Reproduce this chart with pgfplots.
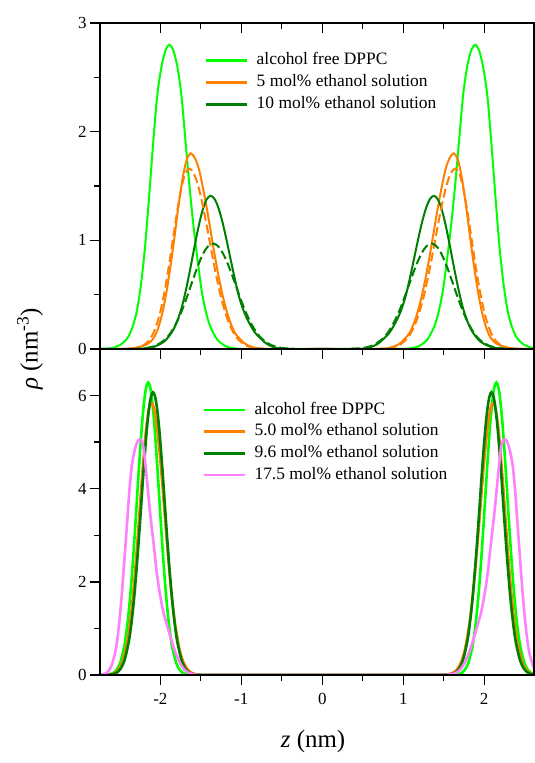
\documentclass[border=0pt]{standalone}
\usepackage{fontspec}
\setmainfont{Liberation Serif}
\usepackage{pgfplots}
\pgfplotsset{compat=1.18}
\definecolor{cgreen}{RGB}{0,255,0}
\definecolor{corange}{RGB}{255,128,0}
\definecolor{cdark}{RGB}{0,128,0}
\definecolor{cpink}{RGB}{255,128,255}
\begin{document}
\begin{tikzpicture}
\pgfplotsset{
  panel/.style={
    scale only axis, width=434bp, height=326bp,
    xmin=-2.745, xmax=2.615,
    xtick={-2,-1,0,1,2}, minor x tick num=1,
    tick align=outside, xtick pos=bottom, ytick pos=both,
    major tick length=10bp, minor tick length=6bp,
    axis line style={line width=1.3bp},
    every tick/.style={black, line width=1.3bp},
    tick label style={font=\fontsize{17}{17}\selectfont},
    xticklabel style={yshift=-5bp},
    /pgf/number format/assume math mode=true,
    axis on top,
    legend cell align=left,
    legend image code/.code={\draw[##1,solid,line width=2.7bp] (0bp,0bp) -- (41bp,0bp);},
    legend style={draw=none, fill=none, inner sep=0pt, outer sep=0pt,
      row sep=6bp, /tikz/column sep=8bp,
      font=\fontsize{17.5}{17.5}\selectfont,
      nodes={inner sep=0pt, text height=12bp, text depth=3.7bp}},
  },
  tl/.style={smooth, tension=0.5, line width=2bp},
  bl/.style={smooth, tension=0.5, line width=2.6bp},
  dsh/.style={dash pattern=on 9bp off 4bp},
}
\path[use as bounding box] (0,0) rectangle (535bp,763bp);

% ---------- top panel ----------
\begin{axis}[panel, at={(100bp,414bp)}, anchor=south west,
  ymin=0, ymax=3, ytick={0,1,2,3}, minor y tick num=1, xticklabels={},
  legend style={at={(0.242,0.908)}, anchor=north west}]
\addplot[tl, cgreen] coordinates {
(-2.745,0) (-2.69,0.002) (-2.59,0.01) (-2.49,0.04) (-2.44,0.07) (-2.39,0.12) (-2.34,0.21) (-2.29,0.35) (-2.24,0.59) (-2.19,0.93) (-2.14,1.39) (-2.09,1.88) (-2.04,2.32) (-1.99,2.58) (-1.94,2.74) (-1.89,2.80) (-1.84,2.75) (-1.79,2.60) (-1.74,2.34) (-1.69,1.92) (-1.64,1.50) (-1.59,1.13) (-1.54,0.82) (-1.49,0.54) (-1.44,0.35) (-1.39,0.22) (-1.34,0.14) (-1.29,0.08) (-1.19,0.025) (-1.09,0.006) (-0.99,0.001) (-0.89,0) (0,0)
(0.89,0) (0.99,0.001) (1.09,0.006) (1.19,0.025) (1.29,0.08) (1.34,0.14) (1.39,0.22) (1.44,0.35) (1.49,0.54) (1.54,0.82) (1.59,1.13) (1.64,1.50) (1.69,1.92) (1.74,2.34) (1.79,2.60) (1.84,2.75) (1.89,2.80) (1.94,2.74) (1.99,2.58) (2.04,2.32) (2.09,1.88) (2.14,1.39) (2.19,0.93) (2.24,0.59) (2.29,0.35) (2.34,0.21) (2.39,0.12) (2.44,0.07) (2.49,0.04) (2.59,0.01) (2.69,0.002)
};
\addlegendentry{alcohol free DPPC}
\addplot[tl, corange] coordinates {
(-2.745,0) (-2.525,0) (-2.425,0.002) (-2.325,0.008) (-2.225,0.025) (-2.175,0.04) (-2.125,0.065) (-2.075,0.109) (-2.025,0.196) (-1.975,0.33) (-1.925,0.52) (-1.875,0.76) (-1.825,1.03) (-1.775,1.32) (-1.725,1.57) (-1.675,1.74) (-1.625,1.80) (-1.575,1.76) (-1.525,1.66) (-1.475,1.49) (-1.425,1.29) (-1.375,1.07) (-1.325,0.85) (-1.275,0.65) (-1.225,0.475) (-1.175,0.333) (-1.125,0.224) (-1.075,0.144) (-1.025,0.10) (-0.975,0.06) (-0.925,0.035) (-0.825,0.01) (-0.725,0.002) (-0.625,0) (0,0)
(0.625,0) (0.725,0.002) (0.825,0.01) (0.925,0.035) (0.975,0.06) (1.025,0.10) (1.075,0.144) (1.125,0.224) (1.175,0.333) (1.225,0.475) (1.275,0.65) (1.325,0.85) (1.375,1.07) (1.425,1.29) (1.475,1.49) (1.525,1.66) (1.575,1.76) (1.625,1.80) (1.675,1.74) (1.725,1.57) (1.775,1.32) (1.825,1.03) (1.875,0.76) (1.925,0.52) (1.975,0.33) (2.025,0.196) (2.075,0.109) (2.125,0.065) (2.175,0.04) (2.225,0.025) (2.325,0.008) (2.425,0.002) (2.525,0) (2.7,0)
};
\addlegendentry{5 mol\% ethanol solution}
\addplot[tl, cdark] coordinates {
(-2.745,0) (-2.38,0) (-2.28,0.001) (-2.18,0.006) (-2.08,0.02) (-1.98,0.055) (-1.93,0.085) (-1.88,0.13) (-1.83,0.19) (-1.78,0.28) (-1.73,0.398) (-1.68,0.556) (-1.63,0.739) (-1.58,0.933) (-1.53,1.118) (-1.48,1.272) (-1.43,1.374) (-1.38,1.41) (-1.33,1.38) (-1.28,1.293) (-1.23,1.16) (-1.18,0.996) (-1.13,0.819) (-1.08,0.645) (-1.03,0.487) (-0.98,0.37) (-0.93,0.28) (-0.88,0.21) (-0.83,0.15) (-0.78,0.11) (-0.73,0.075) (-0.68,0.045) (-0.58,0.012) (-0.48,0.002) (-0.38,0) (0,0)
(0.38,0) (0.48,0.002) (0.58,0.012) (0.68,0.045) (0.73,0.075) (0.78,0.11) (0.83,0.15) (0.88,0.21) (0.93,0.28) (0.98,0.37) (1.03,0.487) (1.08,0.645) (1.13,0.819) (1.18,0.996) (1.23,1.16) (1.28,1.293) (1.33,1.38) (1.38,1.41) (1.43,1.374) (1.48,1.272) (1.53,1.118) (1.58,0.933) (1.63,0.739) (1.68,0.556) (1.73,0.398) (1.78,0.28) (1.83,0.19) (1.88,0.13) (1.93,0.085) (1.98,0.055) (2.08,0.02) (2.18,0.006) (2.28,0.001) (2.38,0) (2.7,0)
};
\addlegendentry{10 mol\% ethanol solution}
% dashed curves
\addplot[tl, corange, dsh, forget plot] coordinates {
(-2.545,0) (-2.445,0.001) (-2.345,0.005) (-2.245,0.02) (-2.195,0.04) (-2.145,0.073) (-2.095,0.132) (-2.045,0.225) (-1.995,0.359) (-1.945,0.539) (-1.895,0.760) (-1.845,1.007) (-1.795,1.253) (-1.745,1.465) (-1.695,1.61) (-1.645,1.66) (-1.595,1.627) (-1.545,1.532) (-1.495,1.386) (-1.445,1.205) (-1.395,1.007) (-1.345,0.808) (-1.295,0.623) (-1.245,0.461) (-1.195,0.329) (-1.145,0.225) (-1.095,0.148) (-1.045,0.093) (-0.945,0.033) (-0.845,0.01) (-0.745,0.003) (-0.645,0)
};
\addplot[tl, corange, dsh, forget plot] coordinates {
(0.645,0) (0.745,0.003) (0.845,0.01) (0.945,0.033) (1.045,0.093) (1.095,0.148) (1.145,0.225) (1.195,0.329) (1.245,0.461) (1.295,0.623) (1.345,0.808) (1.395,1.007) (1.445,1.205) (1.495,1.386) (1.545,1.532) (1.595,1.627) (1.645,1.66) (1.695,1.61) (1.745,1.465) (1.795,1.253) (1.845,1.007) (1.895,0.760) (1.945,0.539) (1.995,0.359) (2.045,0.225) (2.095,0.132) (2.145,0.073) (2.195,0.04) (2.245,0.02) (2.345,0.005) (2.445,0.001) (2.545,0)
};
\addplot[tl, cdark, dsh, forget plot] coordinates {
(-2.35,0.001) (-2.25,0.004) (-2.15,0.012) (-2.05,0.034) (-1.95,0.082) (-1.90,0.122) (-1.85,0.175) (-1.80,0.242) (-1.75,0.324) (-1.70,0.419) (-1.65,0.523) (-1.60,0.632) (-1.55,0.737) (-1.50,0.831) (-1.45,0.906) (-1.40,0.953) (-1.35,0.97) (-1.30,0.955) (-1.25,0.910) (-1.20,0.840) (-1.15,0.752) (-1.10,0.651) (-1.05,0.547) (-1.00,0.444) (-0.95,0.349) (-0.90,0.267) (-0.85,0.197) (-0.80,0.140) (-0.75,0.098) (-0.65,0.043) (-0.55,0.016) (-0.45,0.006) (-0.35,0.002)
};
\addplot[tl, cdark, dsh, forget plot] coordinates {
(0.35,0.002) (0.45,0.006) (0.55,0.016) (0.65,0.043) (0.75,0.098) (0.80,0.140) (0.85,0.197) (0.90,0.267) (0.95,0.349) (1.00,0.444) (1.05,0.547) (1.10,0.651) (1.15,0.752) (1.20,0.840) (1.25,0.910) (1.30,0.955) (1.35,0.97) (1.40,0.953) (1.45,0.906) (1.50,0.831) (1.55,0.737) (1.60,0.632) (1.65,0.523) (1.70,0.419) (1.75,0.324) (1.80,0.242) (1.85,0.175) (1.90,0.122) (1.95,0.082) (2.05,0.034) (2.15,0.012) (2.25,0.004) (2.35,0.001)
};
\end{axis}
% top-edge inward ticks of the upper panel
\begin{axis}[scale only axis, width=434bp, height=326bp, at={(100bp,414bp)}, anchor=south west,
  xmin=-2.745, xmax=2.615, ymin=0, ymax=3,
  axis x line*=top, axis y line=none, tick align=inside,
  xtick={-2,-1,0,1,2}, minor x tick num=1, xticklabels={},
  major tick length=10bp, minor tick length=6bp,
  axis line style={line width=1.3bp, -},
  every tick/.style={black, line width=1.3bp}]
\end{axis}

% ---------- bottom panel ----------
\begin{axis}[panel, at={(100bp,88bp)}, anchor=south west,
  ymin=0, ymax=7, ytick={0,2,4,6}, minor y tick num=1,
  legend style={at={(0.237,0.837)}, anchor=north west}]
\addplot[bl, cgreen] coordinates {
(-2.745,0) (-2.65,0.008) (-2.6,0.028) (-2.55,0.089) (-2.5,0.24) (-2.45,0.571) (-2.425,0.84) (-2.4,1.187) (-2.375,1.63) (-2.35,2.164) (-2.325,2.78) (-2.3,3.448) (-2.275,4.15) (-2.25,4.81) (-2.225,5.41) (-2.2,5.876) (-2.175,6.18) (-2.15,6.28) (-2.125,6.18) (-2.1,5.876) (-2.075,5.41) (-2.05,4.81) (-2.025,4.15) (-2.0,3.448) (-1.975,2.78) (-1.95,2.164) (-1.925,1.63) (-1.9,1.187) (-1.875,0.84) (-1.85,0.571) (-1.8,0.24) (-1.75,0.089) (-1.7,0.028) (-1.65,0.008) (-1.55,0) (0,0)
(1.55,0) (1.65,0.008) (1.7,0.028) (1.75,0.089) (1.8,0.24) (1.85,0.571) (1.875,0.84) (1.9,1.187) (1.925,1.63) (1.95,2.164) (1.975,2.78) (2.0,3.448) (2.025,4.15) (2.05,4.81) (2.075,5.41) (2.1,5.876) (2.125,6.18) (2.15,6.28) (2.175,6.18) (2.2,5.876) (2.225,5.41) (2.25,4.81) (2.275,4.15) (2.3,3.448) (2.325,2.78) (2.35,2.164) (2.375,1.63) (2.4,1.187) (2.425,0.84) (2.45,0.571) (2.5,0.24) (2.55,0.089) (2.6,0.028) (2.65,0.008) (2.7,0)
};
\addlegendentry{alcohol free DPPC}
\addplot[bl, corange] coordinates {
(-2.745,0) (-2.66,0.005) (-2.61,0.015) (-2.56,0.047) (-2.51,0.13) (-2.46,0.32) (-2.41,0.69) (-2.385,0.97) (-2.36,1.32) (-2.335,1.75) (-2.31,2.26) (-2.285,2.82) (-2.26,3.42) (-2.235,4.03) (-2.21,4.60) (-2.185,5.11) (-2.16,5.50) (-2.135,5.75) (-2.11,5.84) (-2.085,5.77) (-2.06,5.56) (-2.035,5.23) (-2.01,4.80) (-1.985,4.31) (-1.96,3.76) (-1.935,3.21) (-1.91,2.67) (-1.885,2.17) (-1.86,1.72) (-1.835,1.33) (-1.81,1.01) (-1.76,0.53) (-1.71,0.256) (-1.66,0.112) (-1.61,0.044) (-1.56,0.016) (-1.51,0.005) (-1.41,0) (0,0)
(1.41,0) (1.51,0.005) (1.56,0.016) (1.61,0.044) (1.66,0.112) (1.71,0.256) (1.76,0.53) (1.81,1.01) (1.835,1.33) (1.86,1.72) (1.885,2.17) (1.91,2.67) (1.935,3.21) (1.96,3.76) (1.985,4.31) (2.01,4.80) (2.035,5.23) (2.06,5.56) (2.085,5.77) (2.11,5.84) (2.135,5.75) (2.16,5.50) (2.185,5.11) (2.21,4.60) (2.235,4.03) (2.26,3.42) (2.285,2.82) (2.31,2.26) (2.335,1.75) (2.36,1.32) (2.385,0.97) (2.41,0.69) (2.46,0.32) (2.51,0.13) (2.56,0.047) (2.61,0.015) (2.66,0.005) (2.7,0)
};
\addlegendentry{5.0 mol\% ethanol solution}
\addplot[bl, cdark] coordinates {
(-2.745,0) (-2.64,0.005) (-2.59,0.016) (-2.54,0.049) (-2.49,0.135) (-2.44,0.33) (-2.39,0.71) (-2.365,1.00) (-2.34,1.37) (-2.315,1.82) (-2.29,2.35) (-2.265,2.93) (-2.24,3.55) (-2.215,4.19) (-2.19,4.78) (-2.165,5.31) (-2.14,5.72) (-2.115,5.98) (-2.09,6.07) (-2.065,5.98) (-2.04,5.72) (-2.015,5.31) (-1.99,4.78) (-1.965,4.19) (-1.94,3.55) (-1.915,2.93) (-1.89,2.35) (-1.865,1.82) (-1.84,1.37) (-1.815,1.00) (-1.79,0.71) (-1.74,0.33) (-1.69,0.135) (-1.64,0.049) (-1.59,0.016) (-1.54,0.005) (-1.44,0) (0,0)
(1.44,0) (1.54,0.005) (1.59,0.016) (1.64,0.049) (1.69,0.135) (1.74,0.33) (1.79,0.71) (1.815,1.00) (1.84,1.37) (1.865,1.82) (1.89,2.35) (1.915,2.93) (1.94,3.55) (1.965,4.19) (1.99,4.78) (2.015,5.31) (2.04,5.72) (2.065,5.98) (2.09,6.07) (2.115,5.98) (2.14,5.72) (2.165,5.31) (2.19,4.78) (2.215,4.19) (2.24,3.55) (2.265,2.93) (2.29,2.35) (2.315,1.82) (2.34,1.37) (2.365,1.00) (2.39,0.71) (2.44,0.33) (2.49,0.135) (2.54,0.049) (2.59,0.016) (2.64,0.005) (2.7,0)
};
\addlegendentry{9.6 mol\% ethanol solution}
\addplot[bl, cpink] coordinates {
(-2.745,0.005) (-2.705,0.015) (-2.655,0.055) (-2.605,0.19) (-2.555,0.50) (-2.53,0.78) (-2.505,1.17) (-2.48,1.65) (-2.455,2.2) (-2.43,2.8) (-2.405,3.4) (-2.38,4.0) (-2.355,4.45) (-2.33,4.72) (-2.305,4.90) (-2.28,5.02) (-2.255,5.06) (-2.23,5.02) (-2.205,4.85) (-2.18,4.45) (-2.155,4.0) (-2.13,3.55) (-2.105,3.15) (-2.08,2.78) (-2.055,2.36) (-2.03,2.02) (-2.005,1.74) (-1.98,1.50) (-1.955,1.30) (-1.905,0.99) (-1.855,0.70) (-1.805,0.45) (-1.755,0.25) (-1.705,0.12) (-1.655,0.05) (-1.605,0.02) (-1.555,0.007) (-1.455,0) (0,0)
(1.455,0) (1.555,0.007) (1.605,0.02) (1.655,0.05) (1.705,0.12) (1.755,0.25) (1.805,0.45) (1.855,0.70) (1.905,0.99) (1.955,1.30) (1.98,1.50) (2.005,1.74) (2.03,2.02) (2.055,2.36) (2.08,2.78) (2.105,3.15) (2.13,3.55) (2.155,4.0) (2.18,4.45) (2.205,4.85) (2.23,5.02) (2.255,5.06) (2.28,5.02) (2.305,4.90) (2.33,4.72) (2.355,4.45) (2.38,4.0) (2.405,3.4) (2.43,2.8) (2.455,2.2) (2.48,1.65) (2.505,1.17) (2.53,0.78) (2.555,0.50) (2.605,0.19) (2.655,0.055) (2.705,0.015)
};
\addlegendentry{17.5 mol\% ethanol solution}
\end{axis}

% axis titles
\node[rotate=90, font=\fontsize{25}{25}\selectfont] at (30bp,414bp) {\textit{ρ} (nm\textsuperscript{-3})};
\node[font=\fontsize{25}{25}\selectfont] at (313bp,21bp) {\textit{z} (nm)};
\end{tikzpicture}
\end{document}
